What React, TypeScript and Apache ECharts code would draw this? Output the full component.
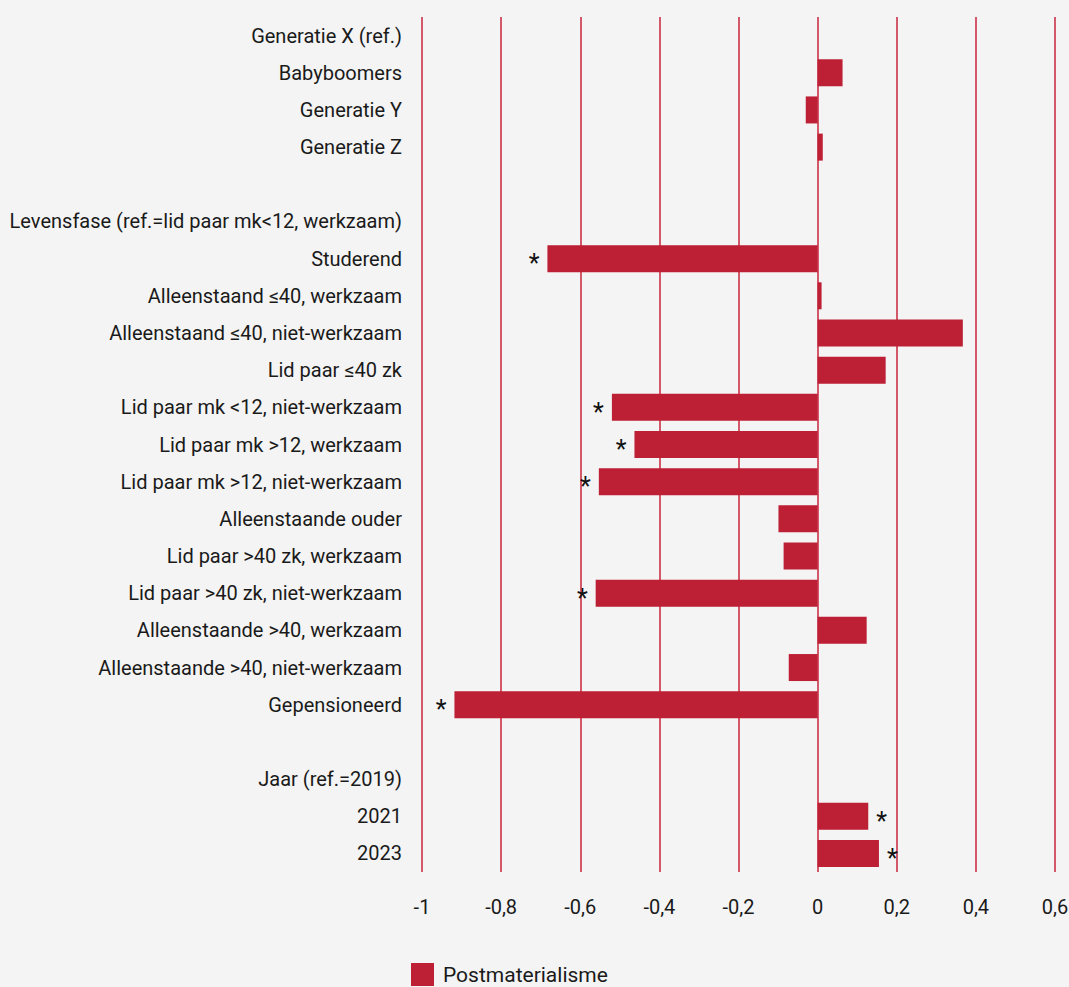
import React, { useEffect, useRef } from "react";
import * as echarts from "echarts";

const categories: string[] = [
  "Generatie X (ref.)",
  "Babyboomers",
  "Generatie Y",
  "Generatie Z",
  " ",
  "Levensfase (ref.=lid paar mk<12, werkzaam)",
  "Studerend",
  "Alleenstaand ≤40, werkzaam",
  "Alleenstaand ≤40, niet-werkzaam",
  "Lid paar ≤40 zk",
  "Lid paar mk <12, niet-werkzaam",
  "Lid paar mk >12, werkzaam",
  "Lid paar mk >12, niet-werkzaam",
  "Alleenstaande ouder",
  "Lid paar >40 zk, werkzaam",
  "Lid paar >40 zk, niet-werkzaam",
  "Alleenstaande >40, werkzaam",
  "Alleenstaande >40, niet-werkzaam",
  "Gepensioneerd",
  "  ",
  "Jaar (ref.=2019)",
  "2021",
  "2023",
];

const values: (number | null)[] = [
  null, 0.063, -0.03, 0.013, null,
  null, -0.683, 0.01, 0.367, 0.172, -0.52, -0.463, -0.553, -0.099, -0.086, -0.561, 0.124, -0.073, -0.918,
  null,
  null, 0.128, 0.155,
];

const significant: boolean[] = [
  false, false, false, false, false,
  false, true, false, false, false, true, true, true, false, false, true, false, false, true,
  false,
  false, true, true,
];

const seriesName = "Postmaterialisme";
const xTicks = { min: -1, max: 0.6, interval: 0.2 };

const FONT = "Roboto, 'DejaVu Sans Condensed', sans-serif";
const RED = "#bd1f35";

export default function App() {
  const ref = useRef<HTMLDivElement>(null);
  useEffect(() => {
    document.body.style.margin = "0";
    const chart = echarts.init(ref.current!, null, { renderer: "svg" });
    const data = values.map((v, i) => {
      if (v === null) return { value: null };
      const item: any = { value: v };
      if (significant[i]) {
        item.label = {
          show: true,
          formatter: "*",
          position: v < 0 ? "left" : "right",
          distance: 8,
          offset: [0, 5],
          fontSize: 25,
          fontFamily: FONT,
          color: "#111",
        };
      }
      return item;
    });
    chart.setOption({
      animation: false,
      backgroundColor: "#f4f4f4",
      textStyle: { fontFamily: FONT },
      grid: {
        left: 422,
        right: 14,
        top: 17,
        bottom: 115,
        containLabel: false,
        outerBoundsMode: "none",
      },
      legend: {
        data: [seriesName],
        left: 411,
        top: 963,
        padding: 0,
        itemWidth: 23,
        itemHeight: 23,
        icon: "rect",
        textStyle: { fontSize: 21, fontFamily: FONT, color: "#1a1a1a", padding: [0, 0, 0, 4] },
      },
      xAxis: {
        type: "value",
        min: xTicks.min,
        max: xTicks.max,
        interval: xTicks.interval,
        axisLine: { show: false },
        axisTick: { show: false },
        splitLine: { show: true, lineStyle: { color: "#c8243c", width: 1.5 } },
        axisLabel: {
          margin: 25,
          fontSize: 20,
          fontFamily: FONT,
          color: "#1a1a1a",
          formatter: (v: number) => String(Math.round(v * 10) / 10).replace(".", ","),
        },
      },
      yAxis: {
        type: "category",
        data: categories,
        inverse: true,
        axisLine: { show: false },
        axisTick: { show: false },
        splitLine: { show: false },
        axisLabel: {
          margin: 20,
          fontSize: 20,
          fontFamily: FONT,
          color: "#1a1a1a",
          interval: 0,
        },
      },
      series: [
        {
          name: seriesName,
          type: "bar",
          data,
          barWidth: 27,
          itemStyle: { color: RED },
        },
      ],
    });
    return () => chart.dispose();
  }, []);
  return <div ref={ref} style={{ width: 1069, height: 987 }} />;
}
